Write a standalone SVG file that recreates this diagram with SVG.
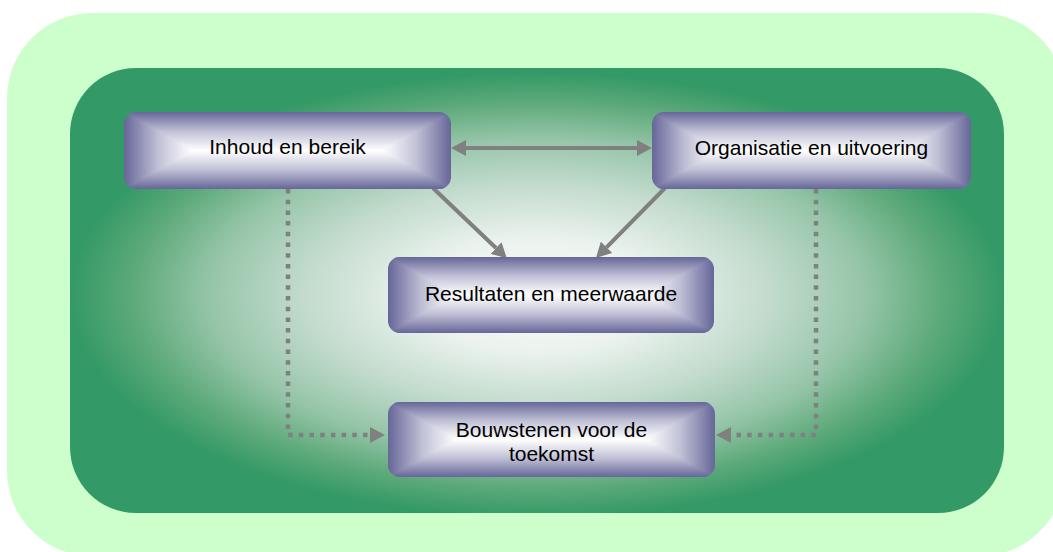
<svg xmlns="http://www.w3.org/2000/svg" width="1053" height="552" viewBox="0 0 1053 552">
  <style>
    .lbl { font-family: "Liberation Sans", Arial, sans-serif; font-size: 21px; fill: #000; text-anchor: middle; }
    .solid { fill: none; stroke: #808080; stroke-width: 4; }
    .dotted { fill: none; stroke: #808080; stroke-width: 4.5; stroke-dasharray: 4.5 6.2; }
  </style>
  <defs>
    <radialGradient id="bgGrad" cx="0.5" cy="0.51" r="0.5">
      <stop offset="0" stop-color="#f7f9f8"/>
      <stop offset="0.25" stop-color="#ecf3ef"/>
      <stop offset="0.5" stop-color="#c2dbcc"/>
      <stop offset="0.7" stop-color="#96c5a9"/>
      <stop offset="0.87" stop-color="#5ca979"/>
      <stop offset="1" stop-color="#339966"/>
    </radialGradient>
    <linearGradient id="hGrad" x1="0" y1="0" x2="1" y2="0">
      <stop offset="0" stop-color="#666699"/>
      <stop offset="0.105" stop-color="#c0c0d6"/>
      <stop offset="0.21" stop-color="#ffffff"/>
      <stop offset="0.79" stop-color="#ffffff"/>
      <stop offset="0.895" stop-color="#c0c0d6"/>
      <stop offset="1" stop-color="#666699"/>
    </linearGradient>
    <linearGradient id="topGrad" x1="0" y1="0" x2="0" y2="1">
      <stop offset="0" stop-color="#666699"/>
      <stop offset="0.5" stop-color="#c0c0d6"/>
      <stop offset="1" stop-color="#ffffff"/>
    </linearGradient>
    <linearGradient id="botGrad" x1="0" y1="1" x2="0" y2="0">
      <stop offset="0" stop-color="#666699"/>
      <stop offset="0.5" stop-color="#c0c0d6"/>
      <stop offset="1" stop-color="#ffffff"/>
    </linearGradient>
    <clipPath id="nodeClip" clipPathUnits="objectBoundingBox">
      <rect x="0" y="0" width="1" height="1" rx="0.037" ry="0.157"/>
    </clipPath>
    <marker id="arrow" markerUnits="userSpaceOnUse" markerWidth="16" markerHeight="16" refX="0" refY="8" orient="auto-start-reverse" viewBox="0 0 16 16">
      <path d="M0 0 L15 8 L0 16 Z" fill="#808080"/>
    </marker>
  </defs>

  <g id="background">
    <rect x="7" y="13" width="1058" height="543" rx="85" ry="85" fill="#ccffcc"/>
    <rect x="70" y="68" width="934" height="445" rx="66" ry="66" fill="url(#bgGrad)"/>
  </g>

  <g id="connectors">
    <line class="solid" x1="466" y1="148" x2="637" y2="148" marker-start="url(#arrow)" marker-end="url(#arrow)"/>
    <line class="solid" x1="433" y1="188" x2="496" y2="248" marker-end="url(#arrow)"/>
    <line class="solid" x1="665" y1="188" x2="606.5" y2="247.3" marker-end="url(#arrow)"/>
    <path class="dotted" d="M288 189 V435 H370" marker-end="url(#arrow)"/>
    <path class="dotted" d="M816 189 V435 H731" marker-end="url(#arrow)"/>
  </g>

  <g id="node-inhoud" transform="translate(124,112)">
    <g clip-path="url(#nodeClip)">
      <rect x="0" y="0" width="327" height="77" fill="url(#hGrad)"/>
      <polygon points="0,0 327,0 258,38.5 69,38.5" fill="url(#topGrad)"/>
      <polygon points="69,38.5 258,38.5 327,77 0,77" fill="url(#botGrad)"/>
    </g>
    <text class="lbl" x="163.5" y="42">Inhoud en bereik</text>
  </g>

  <g id="node-organisatie" transform="translate(652,112)">
    <g clip-path="url(#nodeClip)">
      <rect x="0" y="0" width="319" height="77" fill="url(#hGrad)"/>
      <polygon points="0,0 319,0 252,38.5 67,38.5" fill="url(#topGrad)"/>
      <polygon points="67,38.5 252,38.5 319,77 0,77" fill="url(#botGrad)"/>
    </g>
    <text class="lbl" x="159.5" y="43">Organisatie en uitvoering</text>
  </g>

  <g id="node-resultaten" transform="translate(388,257)">
    <g clip-path="url(#nodeClip)">
      <rect x="0" y="0" width="326" height="76" fill="url(#hGrad)"/>
      <polygon points="0,0 326,0 258,38 68,38" fill="url(#topGrad)"/>
      <polygon points="68,38 258,38 326,76 0,76" fill="url(#botGrad)"/>
    </g>
    <text class="lbl" x="163" y="44">Resultaten en meerwaarde</text>
  </g>

  <g id="node-bouwstenen" transform="translate(388,402)">
    <g clip-path="url(#nodeClip)">
      <rect x="0" y="0" width="327" height="75" fill="url(#hGrad)"/>
      <polygon points="0,0 327,0 258,37.5 69,37.5" fill="url(#topGrad)"/>
      <polygon points="69,37.5 258,37.5 327,75 0,75" fill="url(#botGrad)"/>
    </g>
    <text class="lbl" x="163.5" y="35">Bouwstenen voor de</text>
    <text class="lbl" x="163.5" y="59">toekomst</text>
  </g>
</svg>
